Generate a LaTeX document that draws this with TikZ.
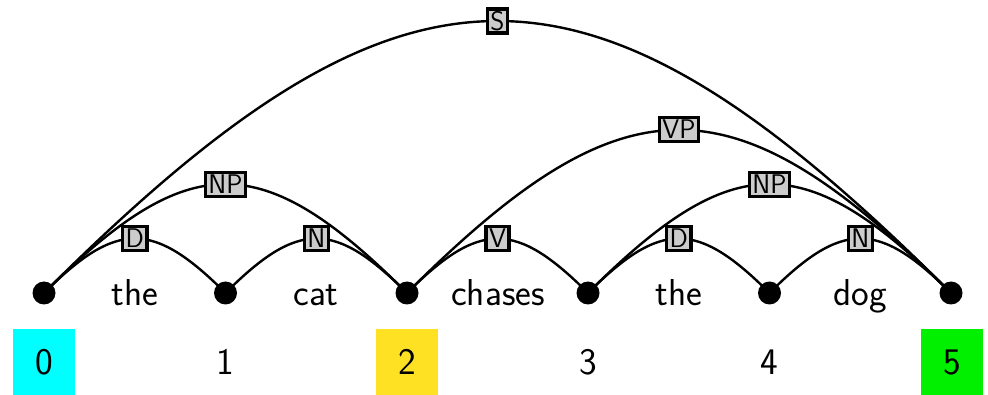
\documentclass[tikz,border=0pt]{standalone}
\usepackage{tikz}
\definecolor{cyanbox}{RGB}{0,255,255}
\definecolor{yellowbox}{RGB}{255,225,35}
\definecolor{greenbox}{RGB}{0,240,0}
\definecolor{labgray}{RGB}{204,204,204}
\begin{document}
\begin{tikzpicture}[x=1pt,y=-1pt,
  font=\sffamily\fontsize{37.5}{44}\selectfont,
  dot/.style={circle,fill=black,inner sep=0pt,minimum size=23pt},
  arc/.style={line width=2.4pt,out=45,in=135,looseness=1.45},
  lab/.style={draw=black,fill=labgray,line width=3.2pt,inner xsep=3pt,inner ysep=3pt,
    font=\sffamily\fontsize{27}{32}\selectfont,text height=18pt,text depth=0pt,pos=0.5},
  word/.style={anchor=base},
  num/.style={minimum width=62pt,minimum height=66pt,inner sep=0pt}]
\useasboundingbox (0,0) rectangle (988,395);
% dots (coordinates)
\foreach \i/\x in {0/44,1/225.5,2/407,3/588,4/769.5,5/951}{
  \coordinate (c\i) at (\x,293);
}
% arcs
\draw[arc] (c0) to node[lab]{S} (c5);
\draw[arc] (c2) to node[lab]{VP} (c5);
\draw[arc] (c0) to node[lab]{NP} (c2);
\draw[arc] (c3) to node[lab]{NP} (c5);
\draw[arc] (c0) to node[lab]{D} (c1);
\draw[arc] (c1) to node[lab]{N} (c2);
\draw[arc] (c2) to node[lab]{V} (c3);
\draw[arc] (c3) to node[lab]{D} (c4);
\draw[arc] (c4) to node[lab]{N} (c5);
% dots
\foreach \i in {0,...,5}{ \node[dot] (d\i) at (c\i) {}; }
% words
\node[word] (w1) at (135,306) {the};
\node[word] (w2) at (316,306) {cat};
\node[word] (w3) at (498,306) {chases};
\node[word] (w4) at (679,306) {the};
\node[word] (w5) at (860,306) {dog};
% numbers
\node[num,fill=cyanbox] (n0) at (44,362) {0};
\node[num] (n1) at (225.5,362) {1};
\node[num,fill=yellowbox] (n2) at (407,362) {2};
\node[num] (n3) at (588,362) {3};
\node[num] (n4) at (769.5,362) {4};
\node[num,fill=greenbox] (n5) at (952,362) {5};
\end{tikzpicture}
\end{document}
